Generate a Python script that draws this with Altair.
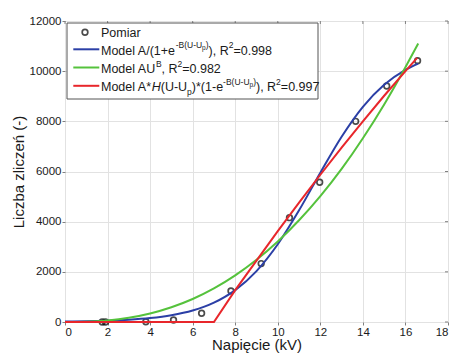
import altair as alt
import pandas as pd

# ---------------- data ----------------
pomiar_x = [1.75, 1.9, 3.8, 5.1, 6.42, 7.8, 9.22, 10.55, 11.97, 13.66, 15.12, 16.57]
pomiar_y = [0, 0, 10, 80, 350, 1240, 2330, 4160, 5570, 8000, 9410, 10420]

curve_x = [0, 1, 2, 3, 4, 5, 6, 7, 8, 9, 10, 11, 12, 13, 14, 15, 16, 16.6]
blue_y = [18, 30, 53, 91, 157, 270, 458, 771, 1271, 2031, 3101, 4453, 5952, 7387, 8580, 9458, 10055, 10304]
green_y = [0, 11, 62, 168, 340, 588, 918, 1340, 1858, 2480, 3210, 4055, 5018, 6104, 7326, 8675, 10159, 11100]

red_x = [0, 7.0, 8, 9, 10, 11, 12, 13, 14, 15, 16, 16.55]
red_y = [0, 0, 1270, 2450, 3620, 4760, 5870, 6950, 8000, 9020, 10000, 10530]

x_ticks = [0, 2, 4, 6, 8, 10, 12, 14, 16, 18]
y_ticks = [0, 2000, 4000, 6000, 8000, 10000, 12000]

legend_lines = [
    [("Model A/(1+e", "n"), ("-B(U-U", "sup"), ("p", "supsub"), (")", "sup"),
     ("), R", "n"), ("2", "sup"), ("=0.998", "n")],
    [("Model AU", "n"), ("B", "sup"), (", R", "n"), ("2", "sup"), ("=0.982", "n")],
    [("Model A*", "n"), ("H", "it"), ("(U-U", "n"), ("p", "sub"), (")*(1-e", "n"),
     ("-B(U-U", "sup"), ("p", "supsub"), (")", "sup"), ("), R", "n"), ("2", "sup"),
     ("=0.997", "n")],
]
legend_colors = ["#2b3fa6", "#55c23c", "#e8262b"]

# ---------------- layout ----------------
W, H = 383, 301
FONT = "Liberation Sans"
TXT = "#1a1a1a"

xs = alt.Scale(domain=[0, 18], nice=False, zero=False)
ys = alt.Scale(domain=[0, 12000], nice=False, zero=False)

xaxis = alt.Axis(values=x_ticks, title="Napięcie (kV)", grid=True, format="d")
yaxis = alt.Axis(values=y_ticks, title="Liczba zliczeń (-)", grid=True, format="d")

pom = pd.DataFrame({"x": pomiar_x, "y": pomiar_y})
blue = pd.DataFrame({"x": curve_x, "y": blue_y})
green = pd.DataFrame({"x": curve_x, "y": green_y})
red = pd.DataFrame({"x": red_x, "y": red_y})

base_enc = dict(x=alt.X("x:Q", scale=xs, axis=xaxis), y=alt.Y("y:Q", scale=ys, axis=yaxis))

points = alt.Chart(pom).mark_point(shape="circle", filled=False, color="black",
                                   size=32, strokeWidth=1.7).encode(**base_enc)
l_blue = alt.Chart(blue).mark_line(color=legend_colors[0], strokeWidth=2,
                                   interpolate="monotone").encode(**base_enc)
l_green = alt.Chart(green).mark_line(color=legend_colors[1], strokeWidth=2,
                                     interpolate="monotone").encode(**base_enc)
l_red = alt.Chart(red).mark_line(color=legend_colors[2], strokeWidth=2).encode(**base_enc)

# inner ticks on top and right edges
tk = pd.DataFrame({"x": x_ticks})
top_ticks = alt.Chart(tk).mark_rule(color="#808080").encode(
    x=alt.X("x:Q", scale=xs, axis=xaxis), y=alt.value(0), y2=alt.value(3))
tky = pd.DataFrame({"y": y_ticks})
right_ticks = alt.Chart(tky).mark_rule(color="#808080").encode(
    y=alt.Y("y:Q", scale=ys, axis=yaxis), x=alt.value(W - 3), x2=alt.value(W))

# ---------------- manual legend ----------------
one = pd.DataFrame({"a": [0]})
widths = {'M': 833, 'o': 556, 'd': 556, 'e': 556, 'l': 222, ' ': 278, 'A': 667, '/': 278,
          '(': 333, ')': 333, '1': 556, '+': 584, '-': 333, 'B': 667, 'U': 722, 'p': 556,
          ',': 278, 'R': 722, '2': 556, '=': 584, '0': 556, '.': 278, '9': 556, '8': 556,
          '7': 556, '*': 389, 'H': 722}
styles = {"n": (12.5, 0, "normal"), "it": (12.5, 0, "italic"), "sup": (8.5, -5.5, "normal"),
          "sub": (8.5, 5.0, "normal"), "supsub": (6.5, -2.8, "normal")}

leg_layers = []
leg_layers.append(alt.Chart(one).mark_rect(fill="white", stroke="#555555", strokeWidth=1).encode(
    x=alt.value(2), x2=alt.value(253), y=alt.value(2), y2=alt.value(78)))
leg_layers.append(alt.Chart(one).mark_point(shape="circle", filled=False, color="black",
                                            size=32, strokeWidth=1.7).encode(
    x=alt.value(20), y=alt.value(11.3)))
leg_layers.append(alt.Chart(one).mark_text(text="Pomiar", align="left", baseline="middle",
                                           font=FONT, fontSize=12.5, color=TXT).encode(
    x=alt.value(36), y=alt.value(11.5)))

row_y = [29.8, 48.0, 66.3]
for segs, yy, col in zip(legend_lines, row_y, legend_colors):
    leg_layers.append(alt.Chart(one).mark_rule(color=col, strokeWidth=2).encode(
        x=alt.value(8.3), x2=alt.value(34.3), y=alt.value(yy - 1.5)))
    cx = 36.0
    for s, st in segs:
        size, dy, fstyle = styles[st]
        leg_layers.append(alt.Chart(one).mark_text(
            text=s, align="left", baseline="middle", font=FONT, fontSize=size,
            fontStyle=fstyle, color=TXT).encode(x=alt.value(cx), y=alt.value(yy + dy)))
        cx += sum(widths[c] for c in s) * size / 1000.0

chart = alt.layer(
    points, l_blue, l_green, l_red, top_ticks, right_ticks, *leg_layers
).properties(
    width=W, height=H,
    padding={"left": 65, "top": 21, "right": 7, "bottom": 32},
    autosize=alt.AutoSizeParams(type="none"),
    background="white",
).configure_view(
    stroke="#808080", strokeWidth=1
).configure_axis(
    labelFont=FONT, labelFontSize=11.5, labelColor=TXT,
    titleFont=FONT, titleFontSize=15, titleColor=TXT, titleFontWeight="normal",
    gridColor="#e2e2e2", gridWidth=1, domain=False,
    tickColor="#808080", tickSize=3, labelPadding=1,
).configure_axisX(titlePadding=0).configure_axisY(titlePadding=3)

chart.save("out.html", embed_options={"renderer": "svg", "actions": False})
